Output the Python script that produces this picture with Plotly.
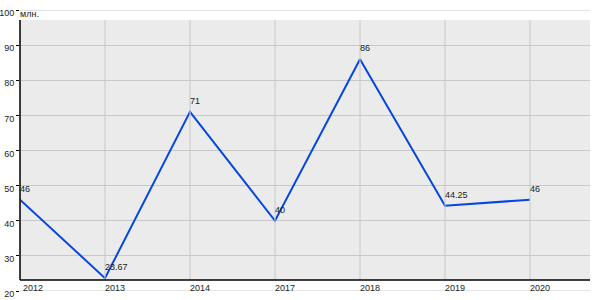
import plotly.graph_objects as go

years = ["2012", "2013", "2014", "2017", "2018", "2019", "2020"]
values = [46, 23.67, 71, 40, 86, 44.25, 46]
labels = ["46", "23.67", "71", "40", "86", "44.25", "46"]
y_ticks = [20, 30, 40, 50, 60, 70, 80, 90, 100]
unit = "млн."

FONT = "Liberation Sans, Arial, sans-serif"
# pixel geometry: plot domain spans y 10..291 px; gray box spans 20..280 px
H = 281.0
box_y0 = (291 - 280) / H
box_y1 = (291 - 20) / H
GRID = "#c8c8c8"
TXT = dict(family=FONT, size=9, color="#222")

fig = go.Figure()
fig.add_trace(go.Scatter(
    x=years, y=values, mode="lines",
    line=dict(color="#0546e3", width=2),
    cliponaxis=False, hoverinfo="skip", showlegend=False,
))

shapes = [dict(type="rect", xref="paper", yref="paper", x0=0, x1=1,
               y0=box_y0, y1=box_y1, fillcolor="#ebebeb", line_width=0,
               layer="below")]
for i, yr in enumerate(years):
    shapes.append(dict(type="line", xref="x", yref="paper", x0=i, x1=i,
                       y0=box_y0, y1=box_y1, line=dict(color=GRID, width=1)))
for v in (y_ticks[0], y_ticks[-1]):
    shapes.append(dict(type="line", xref="paper", yref="y", x0=0, x1=1,
                       y0=v, y1=v, line=dict(color=GRID, width=1)))
shapes.append(dict(type="line", xref="paper", yref="paper", x0=0, x1=0,
                   y0=box_y0, y1=box_y1, line=dict(color="#000", width=1.5)))
shapes.append(dict(type="line", xref="paper", yref="paper", x0=0, x1=1,
                   y0=box_y0, y1=box_y0, line=dict(color="#000", width=1.5)))

# category tick labels (left-aligned at each category)
annotations = [dict(x=i, y=3 / H, xref="x", yref="paper", text=yr,
                    xanchor="left", yanchor="middle", showarrow=False,
                    font=TXT, xshift=(1 if i == 0 else -2))
               for i, yr in enumerate(years)]
# data labels
annotations += [dict(x=i, y=v, xref="x", yref="y", text=t,
                     xanchor="left", yanchor="bottom", showarrow=False,
                     font=TXT, xshift=-2, yshift=4)
                for i, (v, t) in enumerate(zip(values, labels))]
annotations.append(dict(x=0, y=(291 - 14) / H, xref="paper", yref="paper",
                        text=unit, xanchor="left", yanchor="middle", showarrow=False,
                        font=TXT, xshift=-2))

fig.update_layout(
    width=600, height=300,
    margin=dict(l=20, r=10, t=10, b=9, autoexpand=False),
    paper_bgcolor="white", plot_bgcolor="rgba(0,0,0,0)",
    shapes=shapes, annotations=annotations,
    xaxis=dict(type="category", range=[0, 570 / 85], showgrid=False,
               showticklabels=False, zeroline=False, showline=False, ticks="",
               automargin=False),
    yaxis=dict(range=[20, 100], tickvals=y_ticks, showgrid=True,
               gridcolor=GRID, gridwidth=1, zeroline=False, showline=False,
               ticks="outside", ticklen=3, tickcolor="#000", ticklabelshift=3,
               automargin=False, tickfont=TXT),
)

fig.write_html("out.html")
